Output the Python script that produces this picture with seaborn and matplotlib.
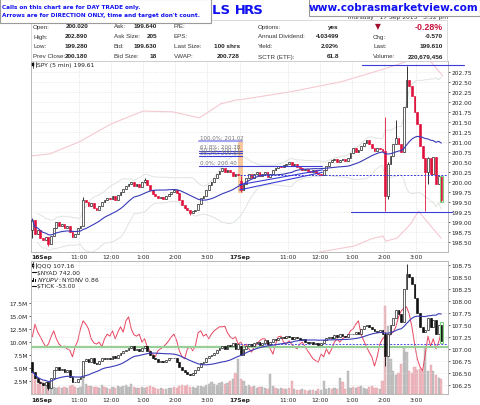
import numpy as np
import pandas as pd
import matplotlib
matplotlib.use("Agg")
import matplotlib.pyplot as plt
import seaborn as sns
from matplotlib.patches import Rectangle
from matplotlib.lines import Line2D

sns.set_theme(style="white")
plt.rcParams['font.family'] = ['DejaVu Sans']

# ---------------- data ----------------
spy_open_d1 = 198.80
spy_close_d1 = [199.05,198.70,198.80,198.60,198.55,198.62,198.45,198.65,198.85,199.00,
                198.90,198.95,198.85,198.90,198.75,198.62,198.70,198.85,198.90,199.55,
                199.50,199.40,199.48,199.35,199.30,199.40,199.50,199.55,199.60,199.58,
                199.65,199.55,199.68,199.75,199.82,199.90,199.95,200.00,199.90,199.95,
                199.88,200.00,200.05,199.92,199.80,199.70,199.65,199.60,199.62,199.58,
                199.65,199.70,199.75,199.80,199.72,199.55,199.42,199.35,199.30,199.22,
                199.28,199.30,199.45,199.60,199.65,199.80,199.92,200.00,200.10,200.20,
                200.28,200.35,200.25,200.30,200.25,200.15,200.20,200.18]
spy_open_d2 = 200.02
spy_close_d2 = [199.80,199.95,200.10,200.20,200.10,200.20,200.25,200.15,200.20,200.25,
                200.12,200.20,200.30,200.35,200.40,200.38,200.42,200.45,200.50,200.42,
                200.45,200.38,200.35,200.30,200.32,200.28,200.25,200.30,200.22,200.20,
                200.18,200.30,200.40,200.50,200.55,200.58,200.50,200.55,200.58,200.52,
                200.60,200.72,200.85,200.75,200.80,200.90,200.98,201.05,200.95,200.85,
                200.78,200.85,200.82,200.78,199.65,200.45,200.65,200.95,201.10,200.95,
                200.75,201.87,202.55,202.40,202.15,201.75,201.45,200.90,200.60,200.25,
                200.60,200.20,200.62,199.95,200.15,199.55]
# notable wicks: bar -> (high, low)
spy_wicks_d1 = {0: (199.10, 198.60), 6: (198.62, 198.40), 19: (199.62, 198.90),
                42: (200.10, 199.98), 59: (199.30, 199.18)}
spy_wicks_d2 = {0: (200.15, 199.75), 54: (201.62, 199.28), 55: (200.50, 199.57),
                58: (201.55, 200.95), 62: (202.89, 201.87), 69: (200.60, 199.28),
                70: (200.62, 199.95), 75: (200.15, 199.50)}

qqq_open_d1 = 106.72
qqq_close_d1 = [106.52,106.40,106.30,106.28,106.25,106.30,106.18,106.40,106.55,106.62,
                106.55,106.58,106.52,106.55,106.42,106.32,106.30,106.38,106.42,106.75,
                106.78,106.72,106.80,106.70,106.68,106.75,106.80,106.78,106.82,106.78,
                106.85,106.80,106.88,106.92,106.95,106.98,107.02,107.05,106.98,107.00,
                106.95,107.02,107.05,106.95,106.88,106.80,106.78,106.72,106.75,106.72,
                106.76,106.80,106.82,106.80,106.72,106.62,106.55,106.52,106.48,106.45,
                106.50,106.55,106.62,106.70,106.72,106.80,106.85,106.88,106.92,106.98,
                107.02,107.05,107.00,107.08,107.05,107.12,107.00,107.10]
qqq_open_d2 = 107.05
qqq_close_d2 = [106.88,107.00,107.05,107.10,107.05,107.12,107.15,107.08,107.12,107.18,
                107.10,107.15,107.20,107.18,107.22,107.25,107.22,107.27,107.24,107.20,
                107.25,107.22,107.18,107.20,107.15,107.12,107.15,107.10,107.12,107.08,
                107.12,107.18,107.22,107.25,107.22,107.28,107.25,107.30,107.27,107.25,
                107.30,107.32,107.30,107.35,107.32,107.42,107.48,107.50,107.45,107.42,
                107.38,107.35,107.40,107.32,106.85,107.30,107.50,107.65,107.80,107.72,
                107.55,108.25,108.55,108.50,108.35,108.05,107.75,107.45,107.35,107.40,
                107.65,107.45,107.60,107.30,107.50,107.16]
qqq_wicks_d1 = {6: (106.30, 106.15)}
qqq_wicks_d2 = {54: (107.35, 106.65), 62: (108.77, 108.25)}

qqq_vol_d1 = [5.8,3.5,1.9,2.5,2.4,1.6,2.2,1.4,1.3,1.2,
              1.3,1.1,1.4,1.2,1.5,1.7,1.3,1.2,1.4,3.0,
              2.0,1.6,1.5,1.4,1.3,1.2,1.8,1.3,1.1,1.0,
              1.4,1.1,1.5,1.3,1.6,1.8,1.4,2.0,1.3,1.2,
              1.1,1.3,1.2,1.4,1.5,1.3,1.2,1.0,1.1,0.9,
              1.0,1.2,1.1,1.3,1.2,1.6,1.8,1.5,1.7,1.3,
              1.4,1.2,1.5,1.6,1.4,1.7,1.9,2.4,2.0,1.8,
              2.1,2.3,2.0,2.2,2.5,2.8,4.0,6.7]
qqq_vol_d2 = [2.9,2.5,1.5,1.8,1.3,1.6,1.2,1.4,1.3,1.2,
              1.0,3.8,1.5,1.2,1.0,1.1,1.0,0.9,1.2,2.5,
              1.0,0.8,0.7,0.9,0.8,0.6,0.7,0.8,0.6,0.9,
              0.7,2.5,1.0,1.2,0.9,1.1,1.0,3.1,2.4,1.0,
              4.4,1.2,1.4,1.1,1.3,1.5,1.2,1.0,1.3,1.6,
              1.1,1.2,1.0,2.5,17.0,13.0,6.7,4.4,3.6,4.0,
              5.8,9.0,8.0,4.4,4.0,5.2,4.6,4.8,4.4,9.2,
              4.4,5.5,4.4,3.6,3.1,2.8]

tick_d1 = [-140,50,-70,-140,-220,-290,-250,-140,-50,-170,
           -250,-290,-280,-320,-340,-440,-290,-200,-20,100,
           50,-20,-170,-230,-250,-220,-290,-170,-100,-130,
           -50,-170,-70,10,-70,100,160,-20,-110,-130,
           -100,-220,-170,-290,-350,-400,-440,-350,-320,-290,
           -250,-200,-140,-100,-200,-350,-440,-470,-320,-290,
           -350,-280,-80,-50,-130,-100,-170,-100,-50,-20,
           10,10,20,-80,-140,-170,-140,-250]
tick_d2 = [-220,-290,-250,-320,-370,-290,-250,-200,-170,-170,
           -250,-320,-400,-250,-140,-130,-220,-250,-200,-250,
           -290,-320,-250,-220,-290,-350,-410,-470,-500,-520,
           -400,-440,-320,-400,-320,-220,-170,-220,-170,-140,
           -130,-50,-20,50,100,-110,-200,-290,-370,-440,
           -580,-440,-250,-170,-130,-170,-100,-70,10,160,
           250,290,310,200,10,-250,-470,-590,-650,-400,
           -130,-280,-170,-320,-220,-53]

# wide (pink) envelope, read at clock times (day, hh:mm, price)
pink_upper = [(0, "09:30", 200.65), (0, "10:05", 200.70), (0, "11:00", 201.00),
              (0, "12:00", 201.45), (0, "13:00", 201.77), (0, "13:55", 201.75),
              (0, "14:45", 201.60), (0, "15:25", 201.95), (0, "15:55", 202.05),
              (1, "09:30", 202.05), (1, "11:05", 202.25), (1, "12:40", 202.50),
              (1, "13:55", 202.80), (1, "14:30", 202.95), (1, "15:00", 203.10),
              (1, "15:25", 203.05), (1, "15:50", 202.65)]
pink_lower = [(1, "09:30", 197.90), (1, "11:00", 198.10), (1, "12:00", 198.25),
              (1, "13:05", 198.40), (1, "13:35", 198.57), (1, "13:58", 198.65),
              (1, "14:04", 198.52), (1, "14:25", 198.60), (1, "14:50", 198.95),
              (1, "15:05", 199.27), (1, "15:15", 199.10), (1, "15:47", 198.60)]

fib_levels = [("100.0%: 201.02", 201.02), ("61.8%: 200.78", 200.78),
              ("50.0%: 200.71", 200.71), ("38.2%: 200.64", 200.64),
              ("0.0%: 200.40", 200.40)]
spy_prev_close = 200.18
spy_day_high = 202.92
spy_day_low = 199.25
qqq_prev_close = 107.10
qqq_green_level = 107.04

hour_labels = ["11:00", "12:00", "1:00", "2:00", "3:00"]
hour_clock = ["11:00", "12:00", "13:00", "14:00", "15:00"]
day_labels = ["16Sep", "17Sep"]

# ---------------- helpers ----------------
W, H = 480, 406
def fx(x): return x / W
def fy(y): return 1 - y / H

def tp(day, hhmm):
    h, m = map(int, hhmm.split(":"))
    return day * 6.5 + (h * 60 + m - 570) / 60.0

def bars_x(day, n):
    return np.array([day * 6.5 + (5 * k + 2.5) / 60.0 for k in range(n)])

def build_ohlc(open0, closes, wicks):
    c = np.array(closes, float)
    o = np.concatenate([[open0], c[:-1]])
    hi = np.maximum(o, c)
    lo = np.minimum(o, c)
    for k, (hh, ll) in wicks.items():
        hi[k] = max(hi[k], hh)
        lo[k] = min(lo[k], ll)
    return o, hi, lo, c

x1 = bars_x(0, len(spy_close_d1)); x2 = bars_x(1, len(spy_close_d2))
xs = np.concatenate([x1, x2])
so1 = build_ohlc(spy_open_d1, spy_close_d1, spy_wicks_d1)
so2 = build_ohlc(spy_open_d2, spy_close_d2, spy_wicks_d2)
s_o, s_h, s_l, s_c = [np.concatenate([a, b]) for a, b in zip(so1, so2)]
qo1 = build_ohlc(qqq_open_d1, qqq_close_d1, qqq_wicks_d1)
qo2 = build_ohlc(qqq_open_d2, qqq_close_d2, qqq_wicks_d2)
q_o, q_h, q_l, q_c = [np.concatenate([a, b]) for a, b in zip(qo1, qo2)]
q_vol = np.array(qqq_vol_d1 + qqq_vol_d2)
ticks = np.array(tick_d1 + tick_d2, float)

spy = pd.DataFrame({"x": xs, "close": s_c})
spy["ma"] = spy["close"].rolling(20, min_periods=1).mean()
sd = spy["close"].rolling(20, min_periods=3).std()
spy["bb_up"] = spy["ma"] + 2 * sd
spy["bb_dn"] = spy["ma"] - 2 * sd
qqq = pd.DataFrame({"x": xs, "close": q_c})
qqq["ma"] = qqq["close"].rolling(20, min_periods=1).mean()

RED = "#e0123c"
BW = 0.68 * 5 / 60

def candles(ax, x, o, h, l, c, up_face, up_edge, dn_face, dn_edge, z=5):
    up = c >= o
    for k in range(len(x)):
        col = up_edge if up[k] else dn_edge
        ax.plot([x[k], x[k]], [l[k], h[k]], color=col, lw=0.6, zorder=z, solid_capstyle="butt")
    body = np.maximum(np.abs(c - o), 0.012)
    bottom = np.minimum(o, c)
    ax.bar(x[up], body[up], bottom=bottom[up], width=BW, color=up_face,
           edgecolor=up_edge, linewidth=0.45, zorder=z + 0.1)
    ax.bar(x[~up], body[~up], bottom=bottom[~up], width=BW, color=dn_face,
           edgecolor=dn_edge, linewidth=0.45, zorder=z + 0.1)

# ---------------- figure ----------------
fig = plt.figure(figsize=(4.8, 4.06), dpi=100)
fig.patch.set_facecolor("white")

ax1 = fig.add_axes([fx(31), fy(253), fx(448) - fx(31), fy(62) - fy(253)])
ax2 = fig.add_axes([fx(31), fy(395), fx(448) - fx(31), fy(262) - fy(395)])

# twins for the lower panel (volume on the left, $TICK hidden)
axv = ax2.twinx()
axt = ax2.twinx()

tick_pos = [tp(d, hc) for d in (0, 1) for hc in hour_clock]
xt = [0.0] + tick_pos[:5] + [6.5] + tick_pos[5:]
xl = [day_labels[0]] + hour_labels + [day_labels[1]] + hour_labels

for ax in (ax1, ax2):
    ax.set_xlim(0, 13)
    ax.set_facecolor("white")
    for sp in ax.spines.values():
        sp.set_color("#b8b8b8"); sp.set_linewidth(0.7)
    ax.set_xticks(xt)
    ax.set_xticklabels(xl)
    ax.tick_params(axis="x", length=0, labelsize=4.3, colors="#222222")
    for lab in ax.get_xticklabels():
        if lab.get_text() in day_labels:
            lab.set_fontweight("bold")
        if lab.get_text() == day_labels[0]:
            lab.set_horizontalalignment("left")
    ax.yaxis.tick_right()
    ax.yaxis.set_label_position("right")
    ax.tick_params(axis="y", which="both", left=False, labelleft=False, right=True, labelright=True,
                   length=1.5, width=0.5, pad=0.8, labelsize=4.2, colors="#222222")
    for t in xt[1:]:
        ax.axvline(t, color="#d4d4d4", lw=0.5, ls=(0, (1, 1.5)), zorder=0)

ax1.tick_params(axis="x", pad=1.2)
ax2.tick_params(axis="x", pad=2.0)

# ---- top panel ----
ax1.set_ylim(198.25, 203.02)
yt1 = np.arange(198.50, 202.80, 0.25)
ax1.set_yticks(yt1)
ax1.set_yticklabels([f"{v:.2f}" for v in yt1])
for v in yt1:
    ax1.axhline(v, color="#dcdcdc", lw=0.5, ls=(0, (1, 1.5)), zorder=0)

pu = pd.DataFrame({"x": [tp(d, t) for d, t, _ in pink_upper], "y": [p for *_, p in pink_upper]})
pl = pd.DataFrame({"x": [tp(d, t) for d, t, _ in pink_lower], "y": [p for *_, p in pink_lower]})
sns.lineplot(data=pu, x="x", y="y", ax=ax1, color="#f5c9d1", lw=0.8, estimator=None, sort=False, zorder=1)
sns.lineplot(data=pl, x="x", y="y", ax=ax1, color="#f5c9d1", lw=0.8, estimator=None, sort=False, zorder=1)
sns.lineplot(data=spy, x="x", y="bb_up", ax=ax1, color="#dfe5df", lw=0.7, estimator=None, zorder=1)
sns.lineplot(data=spy, x="x", y="bb_dn", ax=ax1, color="#dfe5df", lw=0.7, estimator=None, zorder=1)

# orange highlight at day-2 open
ax1.add_patch(Rectangle((tp(1, "09:28"), 199.72), tp(1, "09:37") - tp(1, "09:28"), 201.05 - 199.72,
                        facecolor="#f6bf8a", edgecolor="none", alpha=0.85, zorder=2))

candles(ax1, xs, s_o, s_h, s_l, s_c, "white", "#111111", RED, RED)
sns.lineplot(data=spy, x="x", y="ma", ax=ax1, color="#3a3ab8", lw=0.8, estimator=None, zorder=7)

# fib levels
for i, (lab, p) in enumerate(fib_levels):
    x_end = tp(1, "12:05") if p == 200.40 else tp(1, "09:35")
    col = "#9b9bef" if i == 0 else "#3b3bd8"
    ax1.plot([tp(0, "14:45"), x_end], [p, p], color=col, lw=1.3 if i == 0 else 0.8, zorder=8)
    ax1.text(tp(0, "14:46"), p + 0.03, lab, fontsize=4.0, color="#777777", va="bottom", ha="left", zorder=9)

# trend lines (day 2 morning)
ax1.plot([tp(1, "09:30"), tp(1, "12:05")], [199.80, 200.24], color="#3b3bd8", lw=0.8, zorder=8)
ax1.plot([tp(1, "09:30"), tp(1, "12:05")], [199.93, 200.30], color="#3b3bd8", lw=0.8, zorder=8)
# prev close dotted
ax1.plot([6.5, 13], [spy_prev_close] * 2, color="#3b3bd8", lw=0.7, ls=(0, (2, 1.5)), zorder=8)
# day high / low lines (extend past axes)
ax1.plot([tp(1, "13:19"), tp(1, "16:30")], [spy_day_high] * 2, color="#3b3bd8", lw=0.8, zorder=8, clip_on=False)
ax1.plot([tp(1, "12:58"), tp(1, "16:07")], [spy_day_low] * 2, color="#3b3bd8", lw=0.8, zorder=8, clip_on=False)
# last bar green outline
ax1.add_patch(Rectangle((xs[-1] - BW / 2 - 0.01, 199.50), BW + 0.02, 200.15 - 199.50,
                        facecolor="none", edgecolor="#7fd07f", lw=0.8, zorder=9))

ax1.set_xlabel(""); ax1.set_ylabel("")

# ---- bottom panel ----
axv.set_zorder(0); axt.set_zorder(1); ax2.set_zorder(2)
ax2.patch.set_visible(False); axt.patch.set_visible(False)

axv.set_ylim(0, 25.6)
axv.yaxis.tick_left()
axv.set_yticks([2.5, 5.0, 7.5, 10.0, 12.5, 15.0, 17.5])
axv.set_yticklabels(["2.5M", "5.0M", "7.5M", "10.0M", "12.5M", "15.0M", "17.5M"])
axv.tick_params(axis="y", which="both", right=False, labelright=False, left=True, labelleft=True,
                length=1.5, width=0.5, pad=0.8, labelsize=4.2, colors="#222222")
for sp in axv.spines.values():
    sp.set_visible(False)
vol_up = q_c >= q_o
axv.bar(xs[vol_up], q_vol[vol_up], width=4.2 / 60, color="#bdbdbd", edgecolor="#a8a8a8", lw=0.3, alpha=0.9)
axv.bar(xs[~vol_up], q_vol[~vol_up], width=4.2 / 60, color="#eeb3bb", edgecolor="#e09aa4", lw=0.3, alpha=0.9)

axt.set_ylim(-1000, 1000)
axt.set_yticks([])
axt.tick_params(axis="y", which="both", left=False, right=False, labelleft=False, labelright=False)
for sp in axt.spines.values():
    sp.set_visible(False)
tk = pd.DataFrame({"x": xs, "tick": ticks})
sns.lineplot(data=tk, x="x", y="tick", ax=axt, color="#e8435f", lw=0.7, estimator=None)
axt.set_xlim(0, 13); axv.set_xlim(0, 13)
axt.set_xlabel(""); axt.set_ylabel(""); axv.set_ylabel("")

ax2.set_ylim(106.06, 108.83)
yt2 = np.arange(106.25, 108.80, 0.25)
ax2.set_yticks(yt2)
ax2.set_yticklabels([f"{v:.2f}" for v in yt2])
ax2.yaxis.tick_right()
ax2.tick_params(axis="y", which="both", left=False, labelleft=False, right=True, labelright=True)
for v in yt2:
    ax2.axhline(v, color="#dcdcdc", lw=0.5, ls=(0, (1, 1.5)), zorder=0)
ax2.axhline(qqq_green_level, color="#98cf98", lw=1.6, zorder=3)
ax2.plot([6.5, 13], [qqq_prev_close] * 2, color="#5050e8", lw=0.7, ls=(0, (2, 1.5)), zorder=3)
candles(ax2, xs, q_o, q_h, q_l, q_c, "white", "#111111", "#111111", "#111111")
sns.lineplot(data=qqq, x="x", y="ma", ax=ax2, color="#3a3ab8", lw=0.8, estimator=None, zorder=7)
ax2.add_patch(Rectangle((xs[-1] - BW / 2 - 0.01, 107.12), BW + 0.02, 107.55 - 107.12,
                        facecolor="none", edgecolor="#7fd07f", lw=0.8, zorder=9))
ax2.set_xlabel(""); ax2.set_ylabel("")

# ---------------- header ----------------
BLUE = "#1010f0"
fig.text(fx(212), fy(10), "LS H", fontsize=9.5, fontweight="bold", color=BLUE, va="center", ha="left", zorder=1)
fig.text(fx(244), fy(10), "RS", fontsize=9.5, fontweight="bold", color=BLUE, va="center", ha="left", zorder=1)
fig.text(fx(346), fy(17), "Thursday   17 Sep 2015   3:52 pm", fontsize=4.3, color="#333333",
         va="center", ha="left", zorder=1)

fig.add_artist(Rectangle((fx(0), fy(24)), fx(211), fy(0) - fy(24), transform=fig.transFigure,
                         facecolor="white", edgecolor="#9a9a9a", lw=0.8, zorder=5))
fig.text(fx(2), fy(7), "Calls on this chart are for DAY TRADE only.", fontsize=4.15, fontweight="bold",
         color=BLUE, va="center", ha="left", zorder=6)
fig.text(fx(2), fy(16), "Arrows are for DIRECTION ONLY, time and target don't count.", fontsize=4.15,
         fontweight="bold", color=BLUE, va="center", ha="left", zorder=6)
fig.add_artist(Rectangle((fx(309), fy(17)), fx(171), fy(0) - fy(17), transform=fig.transFigure,
                         facecolor="white", edgecolor="#9a9a9a", lw=0.8, zorder=5))
fig.text(fx(393), fy(8), "www.cobrasmarketview.com", fontsize=7.6, fontweight="bold",
         color=BLUE, va="center", ha="center", zorder=6)

fig.add_artist(Rectangle((fx(31), fy(62)), fx(447) - fx(31), fy(21) - fy(62), transform=fig.transFigure,
                         facecolor="none", edgecolor="#d4d4d4", lw=0.6, zorder=2))

TFONT = ['Liberation Sans', 'DejaVu Sans']
rows_y = [27, 37, 47, 57]
table = [
    [("Open:", "200.020"), ("Ask:", "199.640"), ("P/E:", ""), ("Options:", "yes"), ("", "")],
    [("High:", "202.890"), ("Ask Size:", "205"), ("EPS:", ""), ("Annual Dividend:", "4.03499"), ("Chg:", "-0.570")],
    [("Low:", "199.280"), ("Bid:", "199.630"), ("Last Size:", "100 shrs"), ("Yield:", "2.02%"), ("Last:", "199.610")],
    [("Prev Close:", "200.180"), ("Bid Size:", "18"), ("VWAP:", "200.728"), ("SCTR (ETF):", "61.8"), ("Volume:", "220,679,456")],
]
col_lab = [33, 114, 174, 258, 373]
col_val = [88, 157, 240, 339, 443]
for r, y in enumerate(rows_y):
    for c in range(5):
        lab, val = table[r][c]
        if lab:
            fig.text(fx(col_lab[c]), fy(y), lab, fontsize=4.5, color="#333333", va="center", ha="left",
                     family=TFONT)
        if val:
            fig.text(fx(col_val[c]), fy(y), val, fontsize=4.6, fontweight="bold", color="#222222",
                     va="center", ha="right", family=TFONT)
fig.text(fx(375), fy(27), "\u25BC", fontsize=5.5, color="#a0102c", va="center", ha="left")
fig.text(fx(443), fy(27), "-0.28%", fontsize=6.4, fontweight="bold", color="#c8123e", va="center", ha="right",
         family=TFONT)

# ---------------- legends ----------------
def candle_icon(x, y):
    fig.add_artist(Line2D([fx(x), fx(x)], [fy(y + 3), fy(y - 3)], transform=fig.transFigure,
                          color="#111111", lw=0.5))
    fig.add_artist(Rectangle((fx(x - 1), fy(y + 1.5)), fx(2), fy(y - 1.5) - fy(y + 1.5),
                             transform=fig.transFigure, facecolor="#111111", edgecolor="#111111", lw=0.3))
    fig.add_artist(Line2D([fx(x + 2.5), fx(x + 2.5)], [fy(y + 2.5), fy(y - 2.5)], transform=fig.transFigure,
                          color="#111111", lw=0.5))

candle_icon(33, 65.5)
fig.text(fx(37), fy(65.5), "SPY (5 min) 199.61", fontsize=4.3, color="#222222", va="center", ha="left")

leg_y = [266, 273, 280, 287]
leg_txt = ["QQQ 107.16", "$NYAD 742.00", "$NYUPV:$NYDNV 0.86", "$TICK -53.00"]
candle_icon(33, leg_y[0])
for yy in (leg_y[1], leg_y[3]):
    fig.add_artist(Line2D([fx(32), fx(36)], [fy(yy), fy(yy)], transform=fig.transFigure, color="#111111", lw=0.8))
for k, hgt in enumerate([2, 4, 3]):
    fig.add_artist(Rectangle((fx(32 + 1.4 * k), fy(leg_y[2] + 2.5)), fx(1), fy(leg_y[2] + 2.5 - hgt) - fy(leg_y[2] + 2.5),
                             transform=fig.transFigure, facecolor="#111111", edgecolor="none"))
for yy, t in zip(leg_y, leg_txt):
    fig.text(fx(37), fy(yy), t, fontsize=4.3, color="#222222", va="center", ha="left")

fig.savefig("out.png", dpi=100, facecolor="white")
